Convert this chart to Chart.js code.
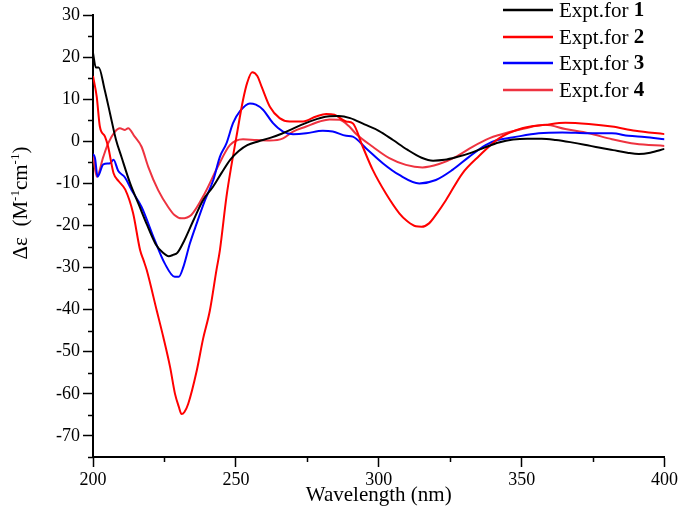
<!DOCTYPE html>
<html>
<head>
<meta charset="utf-8">
<script src="https://cdn.jsdelivr.net/npm/chart.js@4.4.1/dist/chart.umd.min.js"></script>
<style>
  body { margin: 0; background: #fff; }
  #wrap { width: 680px; height: 511px; position: relative; }
</style>
</head>
<body>
<div id="wrap"><canvas id="cd"></canvas></div>
<script>
// wavelength (nm) / delta epsilon
const wl1 = [200,201,202,204,206,208,210,213,216,219,222,224.5,226.5,228,229.5,232,235,238.5,242,245,248,251,254,258,262,266,270,274,278,282,286,290,295,300,305,310,315,319,323,327,332,337,342,347,352,357,362,367,372,377,382,387,391,395,400];
const cd1 = [21,17.5,17.5,12.5,6.5,0.5,-3.8,-10,-15,-20,-24.5,-26.5,-27.3,-27,-26.5,-23.5,-19,-14,-10.8,-7.5,-4.4,-2.3,-0.9,0,0.8,1.8,3,4.2,5.2,5.9,6,5.5,4,2.5,0.3,-2,-3.9,-4.6,-4.4,-3.8,-2.8,-1.5,-0.3,0.4,0.6,0.6,0.3,-0.2,-0.8,-1.5,-2.1,-2.7,-3,-2.7,-1.8];

const wl2 = [200,201.3,202.4,204.2,205.3,207.2,209,211.3,214,216.5,217.7,218.8,222.3,224.6,227,228.7,230,231,232,233.3,236.3,238.5,240.9,243.2,244.4,246.7,248.5,250.2,252.5,254,255.7,257.5,259,261.9,265.3,268.8,273.5,278.1,281.6,284.5,288.6,290.9,294.4,297.9,302.5,307.2,310,313,315,317.6,320.5,323.5,329.3,335.1,342.1,350.2,358.3,365.3,373.5,381.6,389.8,400];
const cd2 = [15.5,10.6,3.5,1.1,-1.3,-7.6,-9.5,-11.5,-17,-25.9,-28.3,-30.6,-40.2,-46.5,-53.7,-60,-63,-64.8,-64.3,-62.4,-54.5,-47,-40.2,-30.6,-25.9,-13.2,-5.5,1.1,9.8,14,16.4,15.5,13,8.2,5.5,4.7,4.7,5.9,6.5,6.3,4.7,4.3,-1.3,-6.8,-12.4,-17.1,-19,-20.2,-20.3,-19.5,-17,-14,-7.6,-3.5,0.7,3.1,3.9,4.4,4.1,3.5,2.5,1.7];

const wl3 = [200,200.7,201.6,203.6,206,207.2,208.8,211.2,213.5,217,221.6,225.1,228.6,230,231.6,233.9,236.3,239.2,242.1,244.4,246.7,249,251.5,254.9,257,259.5,263,266.5,270,274.6,280.4,283.9,288.6,290.9,295.6,301.4,307.2,314.2,320,325.8,331.6,337.4,341.5,346.7,356,364.2,373.5,381.6,387.4,393,400];
const cd3 = [-3,-4,-8.4,-5.5,-5.2,-4.4,-7,-8.6,-11.6,-15.6,-23.5,-29,-32.2,-32.2,-29.9,-24.3,-19.5,-14,-9.2,-3.7,-0.5,4.3,7.2,9,8.7,7.5,4.3,2.3,1.7,1.9,2.5,2.3,1.3,1.1,-1.7,-5.2,-8,-10,-9.2,-6.8,-3.7,-0.9,0.3,0.9,1.9,2.1,1.9,1.9,1.3,1,0.5];

const wl4 = [200,201.3,203.6,205.3,207.7,209.4,211.2,212.3,214.6,217,219.3,222.8,226.3,228.5,231,234.4,239.1,243.7,247.9,252.5,257.2,261.9,266.5,270,274.6,279.3,282.8,286.3,289.7,292,297.9,303.7,309.5,315.3,321.1,327,332.8,338.6,342.1,350.2,358.3,365.3,373.5,381.6,389.8,400];
const cd4 = [-3,-8.4,-3.7,-0.5,2.3,3.1,2.7,3.1,1.1,-1.3,-6,-11.6,-15.6,-17.5,-18.3,-17.5,-12.4,-6,-0.9,0.5,0.3,0.2,0.7,2.3,3.5,4.7,5.2,5.1,3.5,1.8,-1.3,-4,-5.6,-6.2,-5.4,-3.7,-1.3,0.7,1.5,2.9,3.9,2.9,1.9,0.5,-0.6,-1.1];

const names = ["Expt.for ", "Expt.for ", "Expt.for ", "Expt.for "];
const nums = ["1", "2", "3", "4"];
const colors = ["#000000", "#ff0000", "#0000ff", "#ee3340"];

const xTicks = [200, 250, 300, 350, 400];
const xMinor = [225, 275, 325, 375];
const yTicks = [-70, -60, -50, -40, -30, -20, -10, 0, 10, 20, 30];
const yMinor = [-75, -65, -55, -45, -35, -25, -15, -5, 5, 15, 25];

const serif = "Liberation Serif, Times New Roman, serif";
Chart.defaults.font.family = serif;

function pts(xs, ys) {
  return xs.map((x, i) => ({ x: x, y: ys[i] }));
}

const series = [[wl1, cd1], [wl2, cd2], [wl3, cd3], [wl4, cd4]];

// minor ticks, axis titles and the legend (bold numbers)
const extras = {
  id: "extras",
  afterDraw(chart) {
    const c = chart.ctx;
    const xs = chart.scales.x, ys = chart.scales.y;
    const a = chart.chartArea;
    c.save();
    c.strokeStyle = "#000";
    c.lineWidth = 1.5;
    xMinor.forEach((v) => {
      const p = Math.round(xs.getPixelForValue(v)) + 0.5;
      c.beginPath(); c.moveTo(p, a.bottom); c.lineTo(p, a.bottom + 5); c.stroke();
    });
    yMinor.forEach((v) => {
      const p = Math.round(ys.getPixelForValue(v)) + 0.5;
      c.beginPath(); c.moveTo(a.left, p); c.lineTo(a.left - 5, p); c.stroke();
    });

    // x title
    c.fillStyle = "#000";
    c.font = "21px " + serif;
    c.textAlign = "center";
    c.textBaseline = "middle";
    c.fillText("Wavelength (nm)", (a.left + a.right) / 2, 495);

    // y title, rotated, with superscripts
    const parts = [
      ["Δε  (M", 21, 0], ["-1", 13, -8], ["cm", 21, 0], ["-1", 13, -8], [")", 21, 0]
    ];
    let total = 0;
    parts.forEach((p) => { c.font = p[1] + "px " + serif; total += c.measureText(p[0]).width; });
    c.translate(20, 203);
    c.rotate(-Math.PI / 2);
    c.textAlign = "left";
    c.textBaseline = "alphabetic";
    let px = -total / 2;
    parts.forEach((p) => {
      c.font = p[1] + "px " + serif;
      c.fillText(p[0], px, 7 + p[2]);
      px += c.measureText(p[0]).width;
    });
    c.setTransform(1, 0, 0, 1, 0, 0);

    // legend
    const rows = [10, 37, 63, 90];
    rows.forEach((y, i) => {
      c.strokeStyle = colors[i];
      c.lineWidth = 2.5;
      c.beginPath(); c.moveTo(503, y); c.lineTo(553, y); c.stroke();
      c.textAlign = "left";
      c.textBaseline = "middle";
      c.font = "21px " + serif;
      c.fillText(names[i], 559, y + 1);
      const w = c.measureText(names[i]).width;
      c.font = "bold 21px " + serif;
      c.fillText(nums[i], 559 + w, y + 1);
    });
    c.restore();
  }
};

new Chart(document.getElementById("cd"), {
  type: "line",
  data: {
    datasets: series.map((s, i) => ({
      label: names[i] + nums[i],
      data: pts(s[0], s[1]),
      borderColor: colors[i],
      borderWidth: 2,
      pointRadius: 0,
      fill: false,
      cubicInterpolationMode: "monotone",
    })),
  },
  options: {
    responsive: true,
    maintainAspectRatio: false,
    animation: false,
    layout: { padding: { top: 15, right: 14, left: 0, bottom: 0 } },
    plugins: { legend: { display: false }, tooltip: { enabled: false } },
    scales: {
      x: {
        type: "linear",
        min: 200,
        max: 400,
        afterBuildTicks: (s) => { s.ticks = xTicks.map((v) => ({ value: v })); },
        afterFit: (s) => { s.height = 54; },
        grid: { drawOnChartArea: false, drawTicks: true, tickLength: 10, tickColor: "#000", tickWidth: 1.5 },
        border: { display: true, color: "#000", width: 2 },
        ticks: { color: "#000", font: { family: serif, size: 18 }, padding: 2, maxRotation: 0 },
      },
      y: {
        min: -75,
        max: 30,
        afterBuildTicks: (s) => { s.ticks = yTicks.map((v) => ({ value: v })); },
        afterFit: (s) => { s.width = 93; },
        grid: { drawOnChartArea: false, drawTicks: true, tickLength: 10, tickColor: "#000", tickWidth: 1.5 },
        border: { display: true, color: "#000", width: 2 },
        ticks: { color: "#000", font: { family: serif, size: 18 }, padding: 3 },
      },
    },
  },
  plugins: [extras],
});
</script>
</body>
</html>
